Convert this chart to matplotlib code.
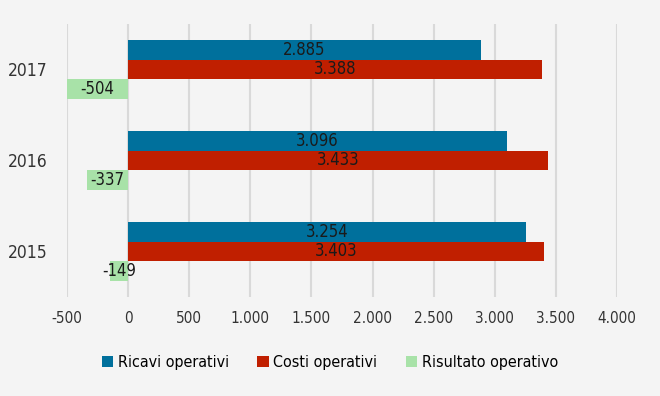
import numpy as np
import matplotlib.pyplot as plt

years = ["2015", "2016", "2017"]
ricavi = [3254, 3096, 2885]
costi = [3403, 3433, 3388]
risultato = [-149, -337, -504]
series_names = ["Ricavi operativi", "Costi operativi", "Risultato operativo"]
colors = ["#00709C", "#C01F00", "#A8E2A8"]

plt.rcParams["font.family"] = ["DejaVu Sans"]
plt.rcParams["font.stretch"] = "condensed"

bg = "#F4F4F4"
fig = plt.figure(figsize=(6.6, 3.96), dpi=100, facecolor=bg)
ax = fig.add_axes([0.1015, 0.25, 0.8335, 0.6894], facecolor=bg)

y = np.arange(len(years))
h = 0.215
offsets = [h, 0, -h]
for vals, off, col, name in zip([ricavi, costi, risultato], offsets, colors, series_names):
    bars = ax.barh(y + off, vals, height=h, color=col, label=name, zorder=3)
    labels = [f"{v:,}".replace(",", ".") for v in vals]
    ax.bar_label(bars, labels=labels, label_type="center", fontsize=12, color="#1a1a1a")

ax.set_xlim(-500, 4000)
ax.set_ylim(-0.5, 2.5)
ticks = np.arange(-500, 4001, 500)
ax.set_xticks(ticks)
ax.set_xticklabels([f"{t:,}".replace(",", ".") for t in ticks], fontsize=11, color="#333333")
ax.set_yticks(y)
ax.set_yticklabels(years, fontsize=12.5, color="#333333")
ax.tick_params(axis="x", length=0, pad=10)
ax.tick_params(axis="y", length=0, pad=14)
ax.grid(axis="x", color="#D9D9D9", linewidth=1.5, zorder=0)
for s in ax.spines.values():
    s.set_visible(False)

fig.legend(loc="lower center", bbox_to_anchor=(0.5, 0.03), ncol=3, frameon=False,
           fontsize=11.5, handlelength=0.7, handleheight=0.7, handletextpad=0.3, columnspacing=1.8)

fig.savefig("out.png", dpi=100, facecolor=bg)
